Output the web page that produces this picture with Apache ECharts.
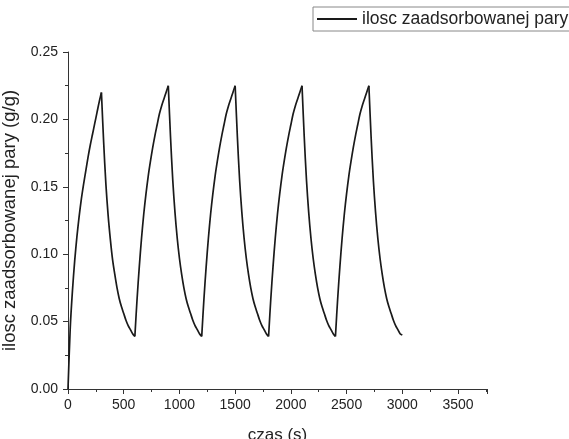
<!DOCTYPE html>
<html><head><meta charset="utf-8">
<script src="https://cdn.jsdelivr.net/npm/echarts@6/dist/echarts.min.js"></script>
<style>html,body{margin:0;padding:0;background:#fff}#c{width:569px;height:439px}</style>
</head><body><div id="c"></div>
<script>
var seriesName = 'ilosc zaadsorbowanej pary';
var xName = 'czas (s)';
var yName = 'ilosc zaadsorbowanej pary (g/g)';
var xTicks = [0, 500, 1000, 1500, 2000, 2500, 3000, 3500];
var yTicks = [0.00, 0.05, 0.10, 0.15, 0.20, 0.25];

// samples every 20 s from 0 to 3000 s
var sampleStep = 20;
var values = [
  // 0-300 s adsorption
  0.000, 0.045, 0.073, 0.095, 0.113, 0.128, 0.141, 0.152, 0.162, 0.172, 0.181, 0.189, 0.197, 0.205, 0.213, 0.220,
  // 320-600 s desorption
  0.183, 0.152, 0.129, 0.111, 0.096, 0.085, 0.075, 0.067, 0.061, 0.056, 0.051, 0.047, 0.044, 0.041, 0.039,
  // 620-900 s adsorption
  0.067, 0.091, 0.112, 0.130, 0.145, 0.158, 0.169, 0.179, 0.188, 0.196, 0.204, 0.210, 0.215, 0.220, 0.225,
  // 920-1200 s desorption
  0.187, 0.155, 0.131, 0.112, 0.097, 0.085, 0.075, 0.067, 0.061, 0.056, 0.051, 0.047, 0.044, 0.041, 0.039,
  // 1220-1500 s adsorption
  0.067, 0.091, 0.112, 0.130, 0.145, 0.158, 0.169, 0.179, 0.188, 0.196, 0.204, 0.210, 0.215, 0.220, 0.225,
  // 1520-1800 s desorption
  0.187, 0.155, 0.131, 0.112, 0.097, 0.085, 0.075, 0.067, 0.061, 0.056, 0.051, 0.047, 0.044, 0.041, 0.039,
  // 1820-2100 s adsorption
  0.067, 0.091, 0.112, 0.130, 0.145, 0.158, 0.169, 0.179, 0.188, 0.196, 0.204, 0.210, 0.215, 0.220, 0.225,
  // 2120-2400 s desorption
  0.187, 0.155, 0.131, 0.112, 0.097, 0.085, 0.075, 0.067, 0.061, 0.056, 0.051, 0.047, 0.044, 0.041, 0.039,
  // 2420-2700 s adsorption
  0.067, 0.091, 0.112, 0.130, 0.145, 0.158, 0.169, 0.179, 0.188, 0.196, 0.204, 0.210, 0.215, 0.220, 0.225,
  // 2720-3000 s desorption
  0.187, 0.155, 0.131, 0.112, 0.097, 0.085, 0.075, 0.067, 0.061, 0.056, 0.051, 0.047, 0.044, 0.041, 0.040
];
// switching times between adsorption and desorption (sharp corners)
var switchTimes = [300, 600, 900, 1200, 1500, 1800, 2100, 2400, 2700];

var segments = [];
var cur = [];
values.forEach(function (v, i) {
  var t = i * sampleStep;
  cur.push([t, v]);
  if (switchTimes.indexOf(t) >= 0) {
    segments.push(cur);
    cur = [[t, v]];
  }
});
if (cur.length > 1) segments.push(cur);

var font = 'Liberation Sans, Arial, sans-serif';
var lineColor = '#1a1a1a';
var series = segments.map(function (seg) {
  return {
    name: seriesName, type: 'line', data: seg,
    showSymbol: false, symbol: 'none', smooth: 0.3,
    lineStyle: {color: lineColor, width: 1.7},
    itemStyle: {color: lineColor}
  };
});

var chart = echarts.init(document.getElementById('c'), null, {renderer: 'canvas'});
chart.setOption({
  animation: false,
  backgroundColor: '#fff',
  grid: {left: 68, top: 52, right: 82, bottom: 50, containLabel: false, outerBoundsMode: 'none'},
  legend: {
    show: true, left: 313, top: 7,
    padding: [3, 20, 3, 4],
    borderColor: '#888', borderWidth: 1,
    itemWidth: 40, itemHeight: 2, itemGap: 6,
    icon: 'rect',
    textStyle: {fontFamily: font, fontSize: 17.5, color: '#222'},
    data: [{name: seriesName, icon: 'rect'}]
  },
  xAxis: {
    type: 'value', min: 0, max: 3760, interval: 500,
    name: xName, nameLocation: 'middle', nameGap: 38,
    nameTextStyle: {fontFamily: font, fontSize: 17, color: '#222'},
    axisLine: {show: true, onZero: false, lineStyle: {color: '#333', width: 1}},
    axisTick: {show: true, inside: false, length: 5, lineStyle: {color: '#333'}},
    minorTick: {show: true, splitNumber: 2, length: 3, lineStyle: {color: '#333'}},
    axisLabel: {fontFamily: font, fontSize: 14, color: '#222', margin: 9,
      showMaxLabel: false,
      formatter: function (v) { return xTicks.indexOf(v) >= 0 ? String(v) : ''; }},
    splitLine: {show: false}
  },
  yAxis: {
    type: 'value', min: 0, max: 0.25, interval: 0.05,
    name: yName, nameLocation: 'middle', nameGap: 43, nameRotate: 90,
    nameTextStyle: {fontFamily: font, fontSize: 18.5, color: '#222'},
    axisLine: {show: true, onZero: false, lineStyle: {color: '#333', width: 1}},
    axisTick: {show: true, inside: false, length: 5, lineStyle: {color: '#333'}},
    minorTick: {show: true, splitNumber: 2, length: 3, lineStyle: {color: '#333'}},
    axisLabel: {fontFamily: font, fontSize: 14, color: '#222', margin: 10,
      formatter: function (v) { return v.toFixed(2); }},
    splitLine: {show: false}
  },
  series: series
});
</script></body></html>
